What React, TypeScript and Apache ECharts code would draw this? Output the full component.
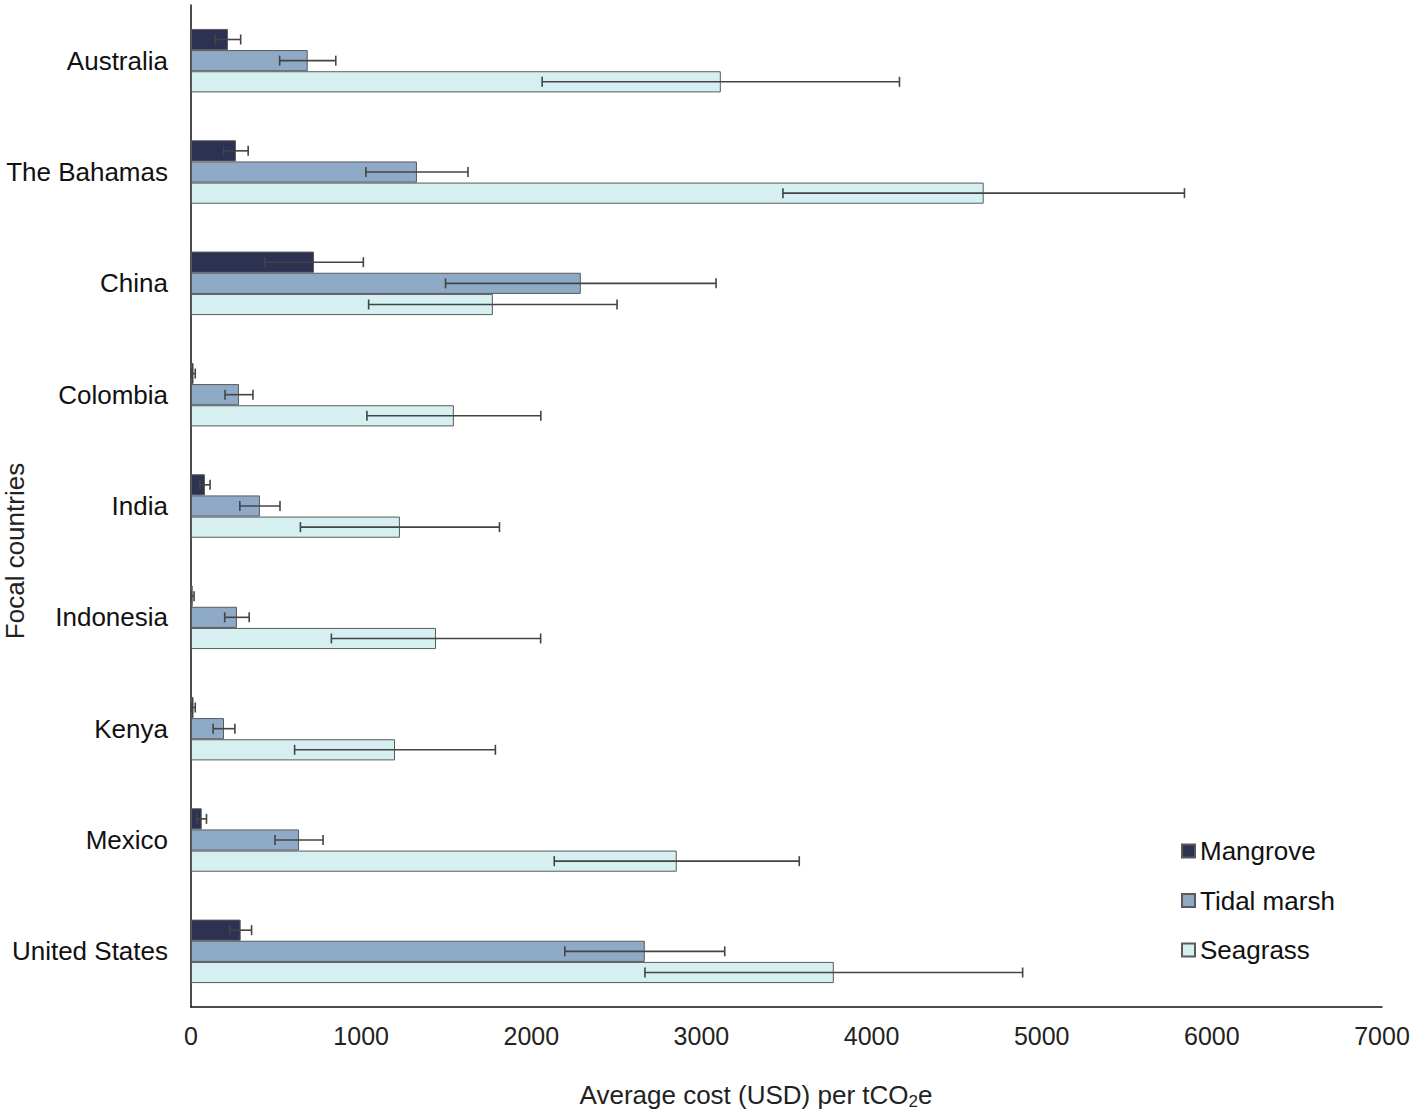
import React, { useEffect, useRef } from "react";
import * as echarts from "echarts";

const countries = ["Australia", "The Bahamas", "China", "Colombia", "India", "Indonesia", "Kenya", "Mexico", "United States"];
const seriesNames = ["Mangrove", "Tidal marsh", "Seagrass"];
const mangrove = [217, 264, 723, 15, 82, 10, 15, 63, 292];
const mangroveErr = [75, 72, 290, 10, 30, 8, 10, 28, 64];
const tidal = [686, 1328, 2291, 282, 405, 270, 194, 635, 2667];
const tidalErr = [165, 300, 795, 82, 118, 72, 64, 141, 470];
const seagrass = [3114, 4659, 1774, 1545, 1228, 1440, 1199, 2855, 3778];
const seagrassErr = [1050, 1180, 730, 511, 585, 615, 590, 720, 1110];
const xTicks = { min: 0, max: 7000, interval: 1000 };
const xTitle = "Average cost (USD) per tCO{sub|2}e";
const yTitle = "Focal countries";

const colors = ["#2d3152", "#8eaac6", "#d6eff0"];
const FONT = "Liberation Sans, Arial, sans-serif";
const BAR_FRAC = 0.19;

export default function App() {
  const ref = useRef<HTMLDivElement>(null);
  useEffect(() => {
    document.body.style.margin = "0";
    const chart = echarts.init(ref.current!, null, { renderer: "svg" });
    const values = [mangrove, tidal, seagrass];
    const errs = [mangroveErr, tidalErr, seagrassErr];

    const barSeries = values.map((vals, i) => ({
      name: seriesNames[i],
      type: "bar",
      data: vals,
      barWidth: BAR_FRAC * 100 + "%",
      barGap: "0%",
      itemStyle: { color: colors[i], borderColor: "#5a5a5a", borderWidth: 1 },
    }));

    const errSeries = values.map((vals, i) => ({
      type: "custom",
      name: seriesNames[i] + " error",
      data: vals.map((v, k) => [v, v - errs[i][k], v + errs[i][k], k]),
      encode: { x: [0, 1, 2], y: 3 },
      z: 10,
      renderItem: (params: any, api: any) => {
        const cat = api.value(3);
        const c = api.coord([api.value(0), cat]);
        const band = api.size([0, 1])[1];
        const bw = band * BAR_FRAC;
        const y = c[1] + (i - 1) * bw;
        const xl = api.coord([api.value(1), cat])[0];
        const xh = api.coord([api.value(2), cat])[0];
        const cap = 5;
        const style = { stroke: "#444444", lineWidth: 1.6 };
        return {
          type: "group",
          children: [
            { type: "line", shape: { x1: xl, y1: y, x2: xh, y2: y }, style },
            { type: "line", shape: { x1: xl, y1: y - cap, x2: xl, y2: y + cap }, style },
            { type: "line", shape: { x1: xh, y1: y - cap, x2: xh, y2: y + cap }, style },
          ],
        };
      },
    }));

    chart.setOption({
      animation: false,
      textStyle: { fontFamily: FONT },
      grid: { left: 191, right: 35, top: 5, bottom: 107, containLabel: false, outerBoundsMode: "none" },
      legend: {
        data: seriesNames,
        orient: "vertical",
        left: 1181,
        top: 838,
        padding: 0,
        itemWidth: 13,
        itemHeight: 13,
        itemGap: 23.5,
        icon: "rect",
        textStyle: { fontSize: 26, color: "#111", fontFamily: FONT },
      },
      graphic: [
        {
          type: "text",
          x: 756,
          y: 1095,
          style: {
            text: xTitle,
            fontSize: 26,
            fill: "#222",
            fontFamily: FONT,
            align: "center",
            verticalAlign: "middle",
            lineHeight: 30,
            rich: {
              sub: { fontSize: 17, lineHeight: 17, verticalAlign: "bottom", fill: "#222", fontFamily: FONT },
            },
          },
        },
        {
          type: "text",
          x: 15,
          y: 551,
          rotation: Math.PI / 2,
          style: {
            text: yTitle,
            fontSize: 26,
            fill: "#222",
            fontFamily: FONT,
            align: "center",
            verticalAlign: "middle",
          },
        },
      ],
      xAxis: {
        type: "value",
        min: xTicks.min,
        max: xTicks.max,
        interval: xTicks.interval,
        splitLine: { show: false },
        axisTick: { show: false },
        axisLine: { show: true, lineStyle: { color: "#111", width: 1.5 } },
        axisLabel: { fontSize: 25, color: "#222", margin: 16, formatter: (v: number) => String(v) },
      },
      yAxis: {
        type: "category",
        data: countries,
        inverse: true,
        axisTick: { show: false },
        axisLine: { show: true, lineStyle: { color: "#111", width: 1.5 } },
        axisLabel: { fontSize: 26, color: "#111", margin: 23 },
      },
      series: [...barSeries, ...errSeries],
    });
    return () => chart.dispose();
  }, []);
  return <div ref={ref} style={{ width: 1417, height: 1114 }} />;
}
